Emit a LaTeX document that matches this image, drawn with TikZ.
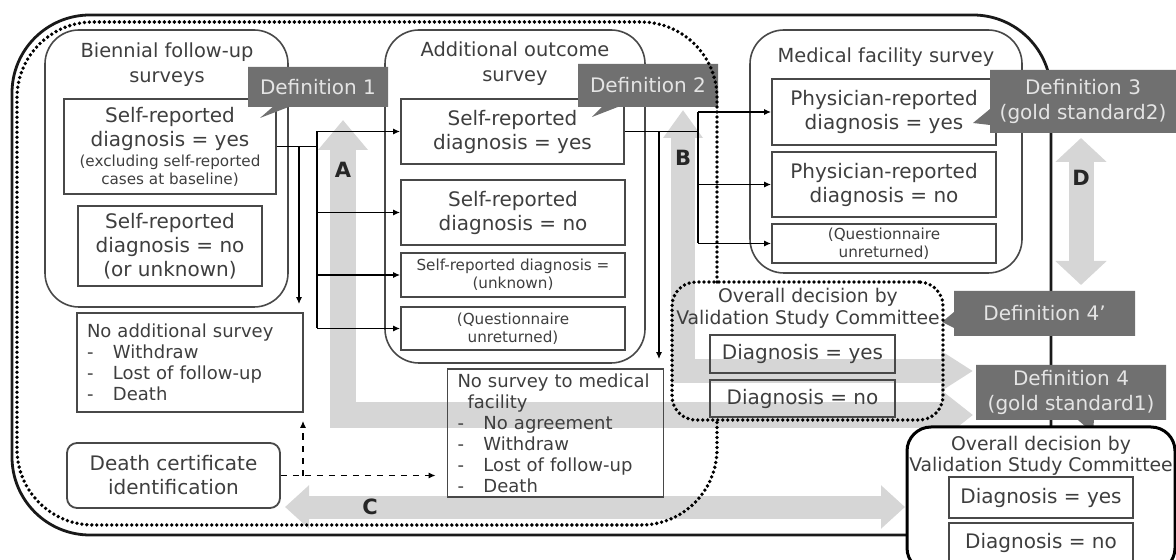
\documentclass[tikz,border=0pt]{standalone}
\usepackage{fontspec}
\setmainfont{DejaVu Sans}
\usepackage{tikz}
\usetikzlibrary{arrows.meta, shapes.callouts, positioning}
\definecolor{txtgray}{RGB}{62,62,62}
\definecolor{linegray}{RGB}{72,72,72}
\definecolor{taggray}{RGB}{112,112,112}
\definecolor{tagtext}{RGB}{228,228,228}
\definecolor{arrgray}{RGB}{214,214,214}
\newcommand{\smalltxt}{\fontsize{7.6}{9}\selectfont}
\newcommand{\dashitem}[1]{\makebox[13pt][l]{-}#1}
\tikzset{
  base/.style={text=txtgray, font=\fontsize{10}{12}\selectfont},
  grpbox/.style={draw=linegray, line width=0.8pt, rounded corners=17pt},
  grptitle/.style={base, align=center, font=\fontsize{9.7}{12.5}\selectfont},
  itembox/.style={base, draw=linegray, line width=0.9pt, align=center, inner sep=1pt},
  smallbox/.style={itembox, font=\fontsize{7.6}{8.8}\selectfont},
  listbox/.style={base, draw=linegray, line width=0.9pt, align=left,
    inner xsep=5pt, inner ysep=1pt, font=\fontsize{9}{10.5}\selectfont},
  deftag/.style={rectangle callout, fill=taggray, text=tagtext, align=center,
    font=\fontsize{10}{12.5}\selectfont, callout pointer width=8pt, inner sep=1pt},
  dotline/.style={draw=black, line width=1.9pt, dash pattern=on 0pt off 2.5pt, line cap=round},
  conn/.style={draw=black, line width=0.6pt},
  connarrow/.style={conn, -{Latex[length=3.5pt,width=3pt]}},
  bigarr/.style={draw=arrgray, line join=miter},
  letter/.style={font=\bfseries\fontsize{10.5}{13}\selectfont, text=black!85}
}

\begin{document}
\begin{tikzpicture}[x=0.5pt, y=-0.5pt]
  \useasboundingbox (0,0) rectangle (1176,560);
  \clip (0,0) rectangle (1176,560);

  % gray comparison arrows
  \draw[bigarr, line width=13pt, {Triangle[width=24pt,length=15pt]}-{Triangle[width=24pt,length=16pt]}]
    (343,120) -- (343,415) -- (973,415);
  \draw[bigarr, line width=12pt, {Triangle[width=19pt,length=14pt]}-{Triangle[width=19pt,length=16pt]}]
    (683,110) -- (683,371) -- (973,371);
  \draw[bigarr, line width=11.5pt, {Triangle[width=21pt,length=12pt]}-{Triangle[width=21pt,length=12pt]}]
    (285,507) -- (905,507);
  \draw[bigarr, line width=12.5pt, {Triangle[width=25pt,length=12pt]}-{Triangle[width=25pt,length=12pt]}]
    (1081,138) -- (1081,285);

  % outer frame
  \draw[black!90, line width=1.4pt, rounded corners=39pt] (12,15) rectangle (1051,535);

  % biennial follow-up surveys
  \node[grpbox, minimum width=121.5pt, minimum height=138.5pt] (g1) at (166.5,168.5) {};
  \node[grptitle] (g1t) at (167,64.5) {Biennial follow-up\\surveys};
  \node[itembox, minimum width=106pt, minimum height=47.5pt] (bsyes) at (170,146.5)
    {Self-reported\\diagnosis = yes\\[-2pt]{\smalltxt (excluding self-reported}\\[-3pt]{\smalltxt cases at baseline)}};
  \node[itembox, minimum width=92pt, minimum height=40pt] (bsno) at (170,246)
    {Self-reported\\diagnosis = no\\(or unknown)};
  \node[listbox, text width=103pt, minimum height=49.5pt] (noadd) at (190,362.5)
    {No additional survey\\\dashitem{Withdraw}\\\dashitem{Lost of follow-up}\\\dashitem{Death}};

  % additional outcome survey
  \node[grpbox, minimum width=130pt, minimum height=166.5pt] (g2) at (515,196.5) {};
  \node[grptitle] (g2t) at (515,63.5) {Additional outcome\\survey};
  \node[itembox, minimum width=111.5pt, minimum height=32.5pt] (asyes) at (512.5,131.5)
    {Self-reported\\diagnosis = yes};
  \node[itembox, minimum width=112pt, minimum height=32.5pt] (asno) at (513,212.5)
    {Self-reported\\diagnosis = no};
  \node[smallbox, minimum width=112pt, minimum height=22pt] (asunk) at (513,275)
    {Self-reported diagnosis =\\(unknown)};
  \node[smallbox, minimum width=112pt, minimum height=21.5pt] (asunret) at (513,328.5)
    {(Questionnaire\\unreturned)};

  % medical facility survey
  \node[grpbox, minimum width=136pt, minimum height=121.5pt] (g3) at (886,151.5) {};
  \node[grptitle] (g3t) at (886,57) {Medical facility survey};
  \node[itembox, minimum width=112pt, minimum height=33pt] (mfyes) at (884,112)
    {Physician-reported\\diagnosis = yes};
  \node[itembox, minimum width=112pt, minimum height=32.5pt] (mfno) at (884,184.5)
    {Physician-reported\\diagnosis = no};
  \node[smallbox, minimum width=112pt, minimum height=19.5pt] (mfunret) at (884,243.5)
    {(Questionnaire\\unreturned)};

  % no survey / death certificate
  \node[listbox, text width=98pt, minimum height=64pt] (nosurv) at (555.5,433)
    {No survey to medical\\\hspace*{5pt}facility\\\dashitem{No agreement}\\\dashitem{Withdraw}\\\dashitem{Lost of follow-up}\\\dashitem{Death}};
  \node[itembox, rounded corners=5pt, minimum width=106.5pt, minimum height=32.5pt] (dcert) at (173.5,475.5)
    {Death certificate\\identification};

  % validation committee (definition 4')
  \node[grptitle, font=\fontsize{9.4}{11}\selectfont] (dec1t) at (808,308) {Overall decision by\\Validation Study Committee};
  \node[itembox, minimum width=92.5pt, minimum height=19pt] (dec1yes) at (802.5,354) {Diagnosis = yes};
  \node[itembox, minimum width=92.5pt, minimum height=18.5pt] (dec1no) at (802.5,398.5) {Diagnosis = no};

  % connectors
  \coordinate (bus1) at (317,146.5);
  \coordinate (j1) at (299,146.5);
  \draw[conn] (bsyes.east) -- (bus1);
  \draw[conn] (bus1 |- asyes.west) -- (bus1 |- asunret.west);
  \foreach \n in {asyes,asno,asunk,asunret}
    \draw[connarrow] (bus1 |- \n.west) -- (\n.west);
  \draw[connarrow, shorten >=4pt] (j1) -- (j1 |- noadd.north);

  \coordinate (bus2) at (698,131.5);
  \coordinate (j2) at (659,131.5);
  \draw[conn] (asyes.east) -- (bus2);
  \draw[conn] (bus2 |- mfyes.west) -- (bus2 |- mfunret.west);
  \foreach \n in {mfyes,mfno,mfunret}
    \draw[connarrow] (bus2 |- \n.west) -- (\n.west);
  \draw[connarrow, shorten >=4.5pt] (j2) -- (j2 |- nosurv.north);

  \coordinate (j3) at (303,475.5);
  \draw[connarrow, dashed, shorten >=5.5pt] (dcert.east) -- (nosurv.west |- dcert.east);
  \draw[connarrow, dashed, shorten >=4pt] (j3) -- (j3 |- noadd.south);

  % definitions
  \coordinate (p1) at (260,118);
  \coordinate (p2) at (592,117);
  \coordinate (p3) at (973,123);
  \coordinate (p4) at (942,322);
  \coordinate (p5) at (1093,433);
  \node[deftag, minimum width=70pt, minimum height=20pt, callout absolute pointer={(p1)}] (def1) at (318,87) {Definition 1};
  \node[deftag, minimum width=70pt, minimum height=21.5pt, callout absolute pointer={(p2)}] (def2) at (648,85.5) {Definition 2};
  \node[deftag, minimum width=93pt, minimum height=31.5pt, callout absolute pointer={(p3)}] (def3) at (1083,101.5) {Definition 3\\(gold standard2)};
  \node[deftag, minimum width=90.5pt, minimum height=22.5pt, callout absolute pointer={(p4)}] (def4p) at (1044.5,313.5) {Definition 4’};
  \node[deftag, minimum width=95pt, minimum height=27.5pt, callout absolute pointer={(p5)}] (def4) at (1071,392.5) {Definition 4\\(gold standard1)};

  % dotted regions
  \draw[dotline, rounded corners=38pt] (717,282) -- (717,22) -- (17,22) -- (17,525) -- (717,525) -- (717,420);
  \node[dotline, rounded corners=12pt, minimum width=135.5pt, minimum height=69pt] (dec1) at (807.5,351) {};

  % gold standard committee
  \node[draw=black, line width=1.5pt, fill=white, rounded corners=12pt, minimum width=134pt, minimum height=72.5pt] (fin) at (1041,499.5) {};
  \node[grptitle, font=\fontsize{9.4}{10.5}\selectfont] (fint) at (1041,455.5) {Overall decision by\\Validation Study Committee};
  \node[itembox, minimum width=92pt, minimum height=20.5pt] (finyes) at (1041,497.5) {Diagnosis = yes};
  \node[itembox, minimum width=92pt, minimum height=20pt] (finno) at (1041,543) {Diagnosis = no};

  % arrow labels
  \node[letter] (la) at (343,170) {A};
  \node[letter] (lb) at (683,158) {B};
  \node[letter] (lc) at (370,507) {C};
  \node[letter] (ld) at (1081,178) {D};
\end{tikzpicture}
\end{document}
